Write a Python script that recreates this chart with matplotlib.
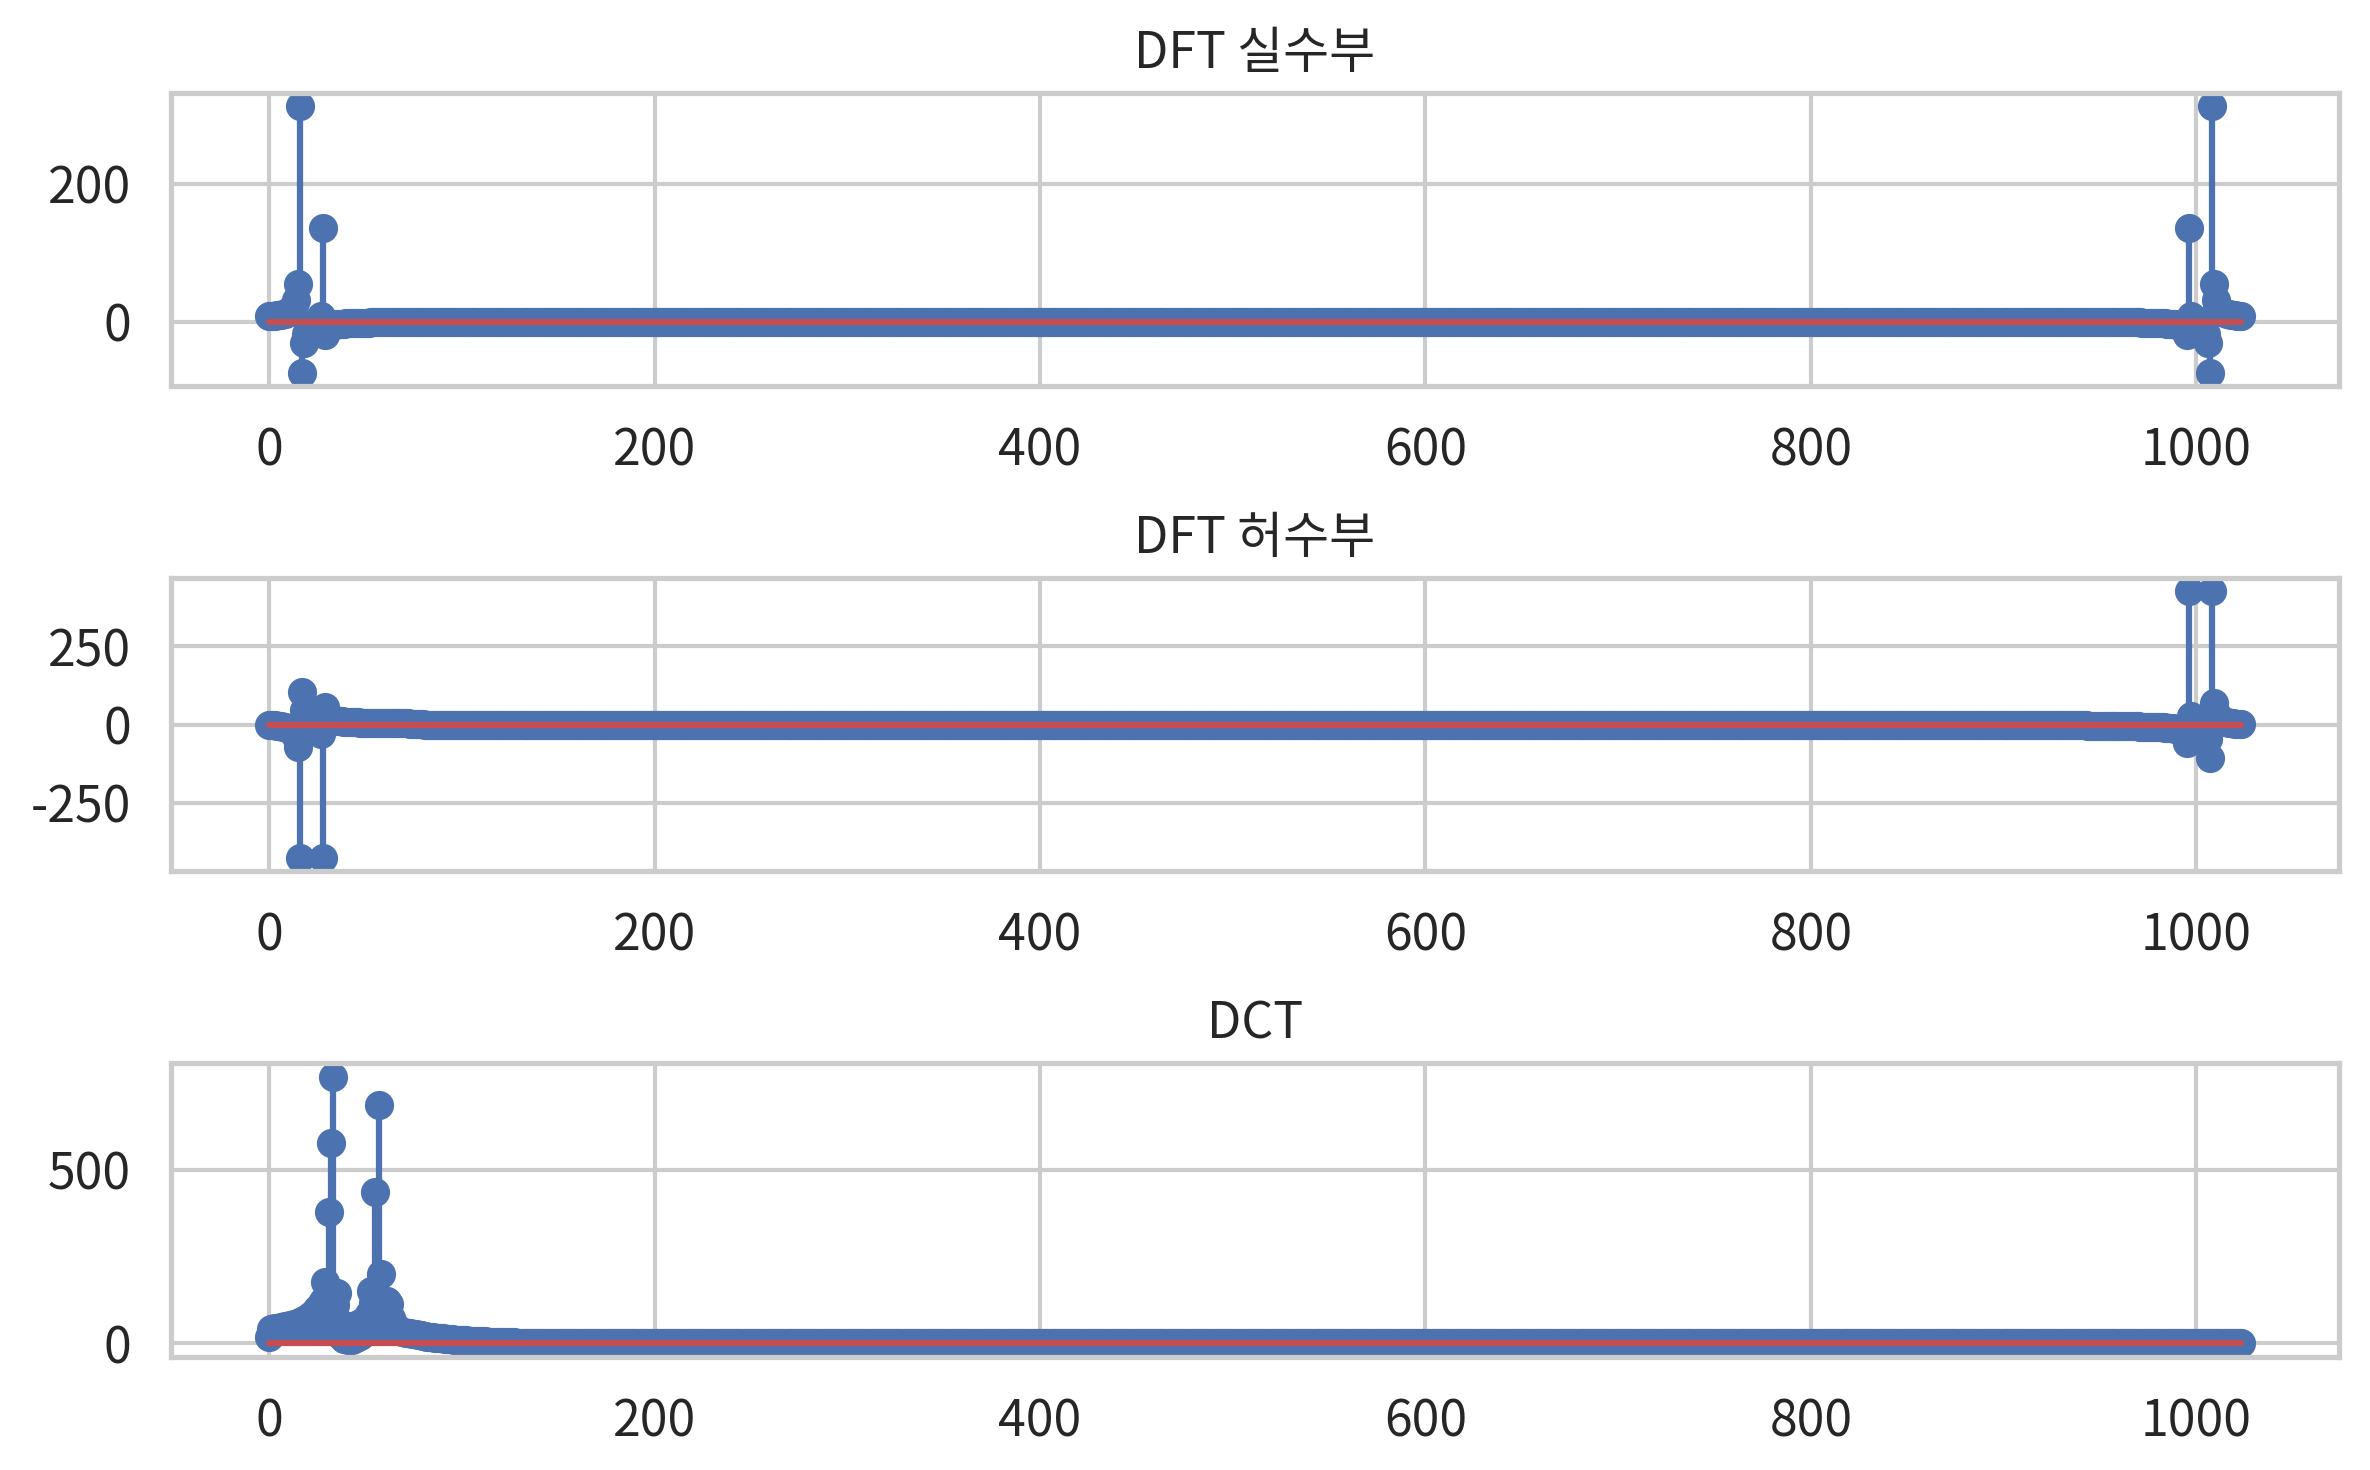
import numpy as np
import matplotlib
matplotlib.use("Agg")
import matplotlib.pyplot as plt
from matplotlib.ticker import MaxNLocator
import seaborn as sns

# 데이터
N = 1024

# DFT 실수부: 앞쪽 k=0..60, 뒤쪽 k=964..1023
dft_real_head = [
    8.6, 8.7, 8.8, 8.9, 9.2, 9.5, 9.9, 10.5, 11.2, 12.2,
    13.5, 15.4, 18.2, 22.7, 31.5, 55.0, 312.9, -73.9, -30.9, -18.5,
    -12.6, -9.0, -6.5, -4.5, -2.7, -0.8, 2.1, 8.7, 136.4, -18.8,
    -10.3, -7.5, -6.0, -5.1, -4.4, -3.9, -3.5, -3.2, -2.9, -2.7,
    -2.5, -2.3, -2.1, -2.0, -1.9, -1.8, -1.7, -1.6, -1.5, -1.5,
    -1.4, -1.3, -1.3, -1.2, -1.2, -1.1, -1.1, -1.0, -1.0, -1.0,
    -0.9,
]
dft_real_tail = [
    -0.9,
    -1.0, -1.0, -1.0, -1.1, -1.1, -1.2, -1.2, -1.3, -1.3, -1.4,
    -1.5, -1.5, -1.6, -1.7, -1.8, -1.9, -2.0, -2.1, -2.3, -2.5,
    -2.7, -2.9, -3.2, -3.5, -3.9, -4.4, -5.1, -6.0, -7.5, -10.3,
    -18.8, 136.4, 8.7, 2.1, -0.8, -2.7, -4.5, -6.5, -9.0, -12.6,
    -18.5, -30.9, -73.9, 312.9, 55.0, 31.5, 22.7, 18.2, 15.4, 13.5,
    12.2, 11.2, 10.5, 9.9, 9.5, 9.2, 8.9, 8.8, 8.7,
]

# DFT 허수부: 앞쪽 k=0..80, 뒤쪽 k=944..1023
dft_imag_head = [
    0.0, -0.8, -1.5, -2.3, -3.2, -4.2, -5.2, -6.4, -7.8, -9.5,
    -11.7, -14.7, -18.9, -25.5, -37.9, -70.6, -426.0, 106.1, 46.5, 29.0,
    20.4, 14.8, 10.7, 7.1, 3.4, -1.3, -9.0, -28.5, -426.0, 57.2,
    31.4, 23.2, 18.9, 16.3, 14.5, 13.1, 12.1, 11.2, 10.5, 9.9,
    9.4, 8.9, 8.5, 8.1, 7.8, 7.5, 7.2, 7.0, 6.7, 6.5,
    6.3, 6.1, 5.9, 5.8, 5.6, 5.5, 5.3, 5.2, 5.1, 5.0,
    4.9, 4.8, 4.7, 4.6, 4.5, 4.4, 4.3, 4.2, 4.2, 4.1,
    4.0, 3.9, 3.9, 3.8, 3.8, 3.7, 3.7, 3.6, 3.6, 3.5,
    3.5,
]
dft_imag_tail = [
    -3.5, -3.5, -3.6, -3.6, -3.7, -3.7, -3.8, -3.8, -3.9, -3.9,
    -4.0, -4.1, -4.2, -4.2, -4.3, -4.4, -4.5, -4.6, -4.7, -4.8,
    -4.9, -5.0, -5.1, -5.2, -5.3, -5.5, -5.6, -5.8, -5.9, -6.1,
    -6.3, -6.5, -6.7, -7.0, -7.2, -7.5, -7.8, -8.1, -8.5, -8.9,
    -9.4, -9.9, -10.5, -11.2, -12.1, -13.1, -14.5, -16.3, -18.9, -23.2,
    -31.4, -57.2, 426.0, 28.5, 9.0, 1.3, -3.4, -7.1, -10.7, -14.8,
    -20.4, -29.0, -46.5, -106.1, 426.0, 70.6, 37.9, 25.5, 18.9, 14.7,
    11.7, 9.5, 7.8, 6.4, 5.2, 4.2, 3.2, 2.3, 1.5, 0.8,
]

# DCT: k=0..150
dct_head = [
    18, 42, 43, 44, 45, 46, 47, 48, 49, 50,
    51, 52, 54, 55, 57, 59, 61, 64, 67, 70,
    74, 78, 82, 87, 92, 98, 105, 112, 122, 176,
    138, 380, 577, 768, 112, 146, 62, 22, 53, 14,
    50, 9, 48, 11, 51, 15, 57, 21, 63, 29,
    71, 40, 84, 151, 118, 437, 108, 686, 200, 126,
    96, 123, 114, 72, 60, 50, 42, 38, 35, 33,
    32, 31, 30, 29, 28, 27, 26, 25, 24, 23,
    22, 21, 20, 19, 18, 18, 17, 16, 16, 15,
    15, 14, 13, 13, 12, 12, 11, 11, 10, 10,
    9, 9, 9, 8, 8, 8, 7, 7, 7, 6,
    6, 6, 6, 5, 5, 5, 5, 4, 4, 4,
    4, 4, 3, 3, 3, 3, 3, 3, 2, 2,
    2, 2, 2, 2, 2, 2, 2, 2, 2, 2,
    2, 1, 1, 1, 1, 1, 1, 1, 1, 1,
    1,
]

dft_real = np.array(dft_real_head + [0.0] * (N - len(dft_real_head) - len(dft_real_tail)) + dft_real_tail)
dft_imag = np.array(dft_imag_head + [0.0] * (N - len(dft_imag_head) - len(dft_imag_tail)) + dft_imag_tail)
dct_vals = np.array(dct_head + [0] * (N - len(dct_head)), dtype=float)

# 스타일
sns.set_theme(style="whitegrid")
plt.rcParams['font.family'] = ['Noto Sans CJK KR', 'DejaVu Sans']
plt.rcParams['axes.unicode_minus'] = False
plt.rcParams['xtick.labelsize'] = 12
plt.rcParams['ytick.labelsize'] = 12
plt.rcParams['axes.titlesize'] = 12

# 그래프
fig = plt.figure(figsize=(7.9, 4.9), dpi=300)

panels = [(dft_real, "DFT 실수부"), (dft_imag, "DFT 허수부"), (dct_vals, "DCT")]
for i, (vals, title) in enumerate(panels):
    ax = plt.subplot(3, 1, i + 1)
    markerline, stemlines, baseline = ax.stem(vals)
    plt.setp(markerline, markersize=6, markeredgewidth=1)
    ax.set_title(title)
    ax.yaxis.set_major_locator(MaxNLocator(nbins=3, steps=[1, 2, 2.5, 5, 10]))

plt.subplots_adjust(left=0.072, right=0.987, top=0.937, bottom=0.077, hspace=0.655)
plt.savefig("out.png", dpi=300)
